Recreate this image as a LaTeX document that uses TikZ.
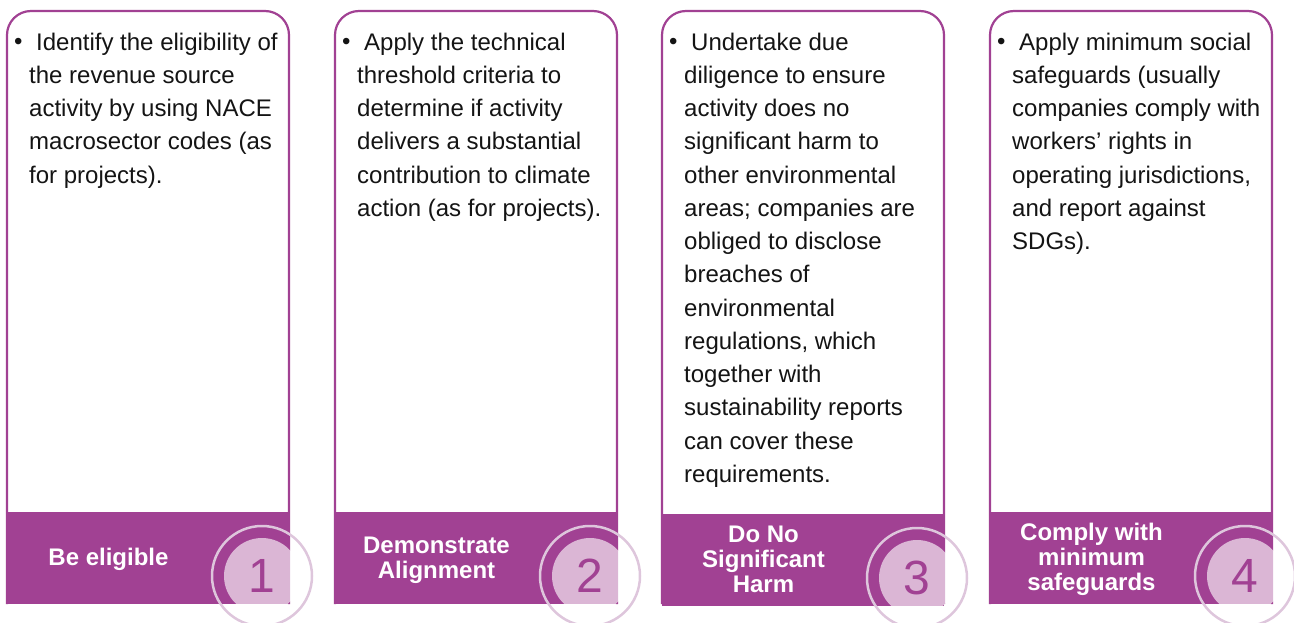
\documentclass[tikz,border=0pt]{standalone}
\usepackage{fontspec}
\setmainfont{Liberation Sans}
\usetikzlibrary{positioning}
\definecolor{lila}{RGB}{161,65,147}
\definecolor{lila-ring}{RGB}{222,198,220}
\definecolor{schrift}{RGB}{20,20,20}

\begin{document}
\begin{tikzpicture}[x=1pt, y=-1pt,
    karte/.style={draw=lila, line width=2.2pt, rounded corners=24pt, fill=white},
    balken/.style={fill=lila},
    ring/.style={draw=lila-ring, line width=2.5pt},
    nummer/.style={text=lila, inner sep=0pt, font=\fontsize{48}{48}\selectfont},
    titel/.style={text=white, inner sep=0pt, align=center, font=\fontsize{24}{25}\selectfont\bfseries},
    punkt/.style={text=schrift, inner sep=0pt, anchor=base west, font=\fontsize{24}{33}\selectfont},
    rumpf/.style={text=schrift, inner sep=0pt, anchor=north west, align=left, font=\fontsize{24}{33.25}\selectfont}]

    \useasboundingbox (0,0) rectangle (1294,623);

    % Karten, Balken und Nummern
    \foreach \x/\dy/\nr in {7/0/1, 335/0/2, 662/2/3, 990/0/4} {
        \draw[karte] (\x,604) -- (\x,11) -- ++(282,0) -- ++(0,593);
        \fill[balken] (\x,512+\dy) rectangle ++(282,92);
        \fill[white, fill opacity=0.62] (\x+255,576+\dy) circle[radius=38pt];
        \draw[ring] (\x+255,576+\dy) circle[radius=50pt];
        \node[nummer] (nr-\nr) at (\x+255,576+\dy) {\nr};
        \node[punkt] (punkt-\nr) at (\x+7,49.5) {\textbullet};
    }

    \node[rumpf] (text-1) at (29,32.5) {\hspace*{7pt}Identify the eligibility of\\the revenue source\\activity by using NACE\\macrosector codes (as\\for projects).};
    \node[rumpf] (text-2) at (357,32.5) {\hspace*{7pt}Apply the technical\\threshold criteria to\\determine if activity\\delivers a substantial\\contribution to climate\\action (as for projects).};
    \node[rumpf] (text-3) at (684,32.5) {\hspace*{7pt}Undertake due\\diligence to ensure\\activity does no\\significant harm to\\other environmental\\areas; companies are\\obliged to disclose\\breaches of\\environmental\\regulations, which\\together with\\sustainability reports\\can cover these\\requirements.};
    \node[rumpf] (text-4) at (1012,32.5) {\hspace*{7pt}Apply minimum social\\safeguards (usually\\companies comply with\\workers’ rights in\\operating jurisdictions,\\and report against\\SDGs).};

    \node[titel] (titel-1) at (108.5,559) {Be eligible};
    \node[titel] (titel-2) at (436.5,560) {Demonstrate\\Alignment};
    \node[titel] (titel-3) at (763.5,559) {Do No\\Significant\\Harm};
    \node[titel] (titel-4) at (1091.5,559) {Comply with\\minimum\\safeguards};

\end{tikzpicture}
\end{document}
